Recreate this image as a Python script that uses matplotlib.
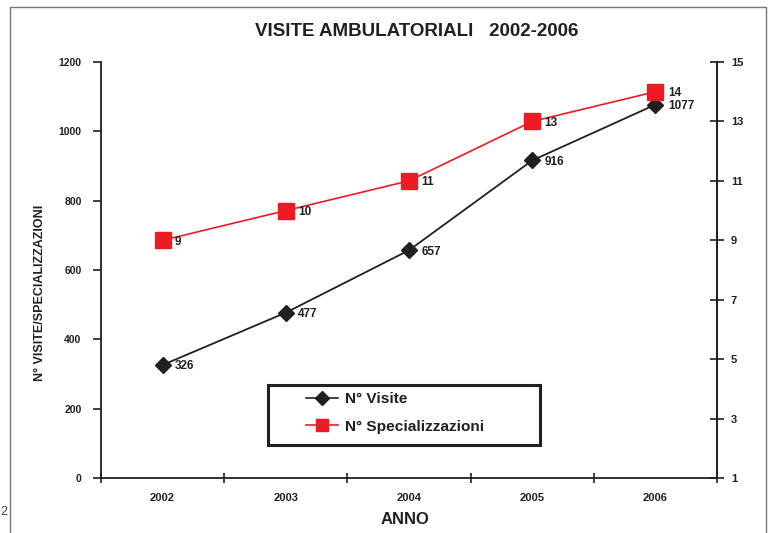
import matplotlib
matplotlib.use("Agg")
import matplotlib.pyplot as plt
from matplotlib.lines import Line2D
from matplotlib.patches import Rectangle

plt.rcParams['font.family'] = ['Liberation Sans', 'DejaVu Sans']
plt.rcParams['font.weight'] = 'bold'

years = ["2002", "2003", "2004", "2005", "2006"]
visite = [326, 477, 657, 916, 1077]
specializzazioni = [9, 10, 11, 13, 14]
left_ticks = [0, 200, 400, 600, 800, 1000, 1200]
right_ticks = [1, 3, 5, 7, 9, 11, 13, 15]

W, H = 771, 533
fig = plt.figure(figsize=(W / 100, H / 100), dpi=100)
fig.patch.set_facecolor('white')

# outer frame
fx0, fx1, fy1 = 10 / W, 765.5 / W, 1 - 7 / H
fig.add_artist(Line2D([fx0, fx0, fx1, fx1], [-0.02, fy1, fy1, -0.02],
                      transform=fig.transFigure, color='#777777', lw=1.0))
fig.text(4 / W, 1 - 512 / H, "2", fontsize=9, color='#444444', ha='center', va='center',
         fontweight='normal')

ax = fig.add_axes([101 / W, 1 - 478 / H, (717 - 101) / W, (478 - 62) / H])
ax2 = ax.twinx()

x = list(range(len(years)))
l1, = ax.plot(x, visite, color='#231f20', lw=1.3, marker='D', ms=8.5,
              markerfacecolor='#231f20', markeredgecolor='#231f20', zorder=3)
l2, = ax2.plot(x, specializzazioni, color='#ed1c24', lw=1.2, marker='s', ms=11,
               markerfacecolor='#ed1c24', markeredgecolor='#ed1c24', zorder=3)

ax.set_xlim(-0.5, len(years) - 0.5)
ax.set_ylim(0, 1200)
ax2.set_ylim(1, 15)
ax.set_yticks(left_ticks)
ax.set_yticklabels([str(v) for v in left_ticks], fontsize=7.5, fontweight='bold', color='#231f20')
ax2.set_yticks(right_ticks)
ax2.set_yticklabels([str(v) for v in right_ticks], fontsize=8, fontweight='bold', color='#231f20')

ax.set_xticks([i + 0.5 for i in range(-1, len(years))])
ax.set_xticklabels([])
ax.set_xticks(x, minor=True)
ax.set_xticklabels(years, minor=True, fontsize=8, fontweight='bold', color='#231f20')
ax.tick_params(axis='x', which='major', direction='inout', length=7, width=1.2, color='#231f20')
ax.tick_params(axis='x', which='minor', length=0, pad=11)
ax.tick_params(axis='y', direction='out', length=6, width=1.2, pad=8, color='#231f20')
ax2.tick_params(axis='y', direction='inout', length=10, width=1.2, pad=5, color='#231f20')

for a in (ax, ax2):
    a.spines['top'].set_visible(False)
    for s in ('left', 'right', 'bottom'):
        a.spines[s].set_linewidth(1.3)
        a.spines[s].set_color('#231f20')
ax2.spines['left'].set_visible(False)
ax2.spines['bottom'].set_visible(False)

for xi, v in zip(x, visite):
    ax.annotate(str(v), (xi, v), xytext=(9, -1), textcoords='offset points',
                ha='left', va='center', fontsize=8.5, fontweight='bold', color='#231f20')
for xi, v in zip(x, specializzazioni):
    ax2.annotate(str(v), (xi, v), xytext=(9, -1), textcoords='offset points',
                 ha='left', va='center', fontsize=8.5, fontweight='bold', color='#231f20')

fig.text(417 / W, 1 - 32 / H, "VISITE AMBULATORIALI   2002-2006", ha='center', va='center',
         fontsize=13.5, fontweight='bold', color='#231f20')
fig.text(40 / W, 1 - 293 / H, "N° VISITE/SPECIALIZZAZIONI", rotation=90, ha='center',
         va='center', fontsize=9, fontweight='bold', color='#231f20')
fig.text(405 / W, 1 - 519 / H, "ANNO", ha='center', va='center', fontsize=12,
         fontweight='bold', color='#231f20')

# legend box
bx0, bx1, by0, by1 = 268, 540, 385, 445
ax.add_patch(Rectangle(((bx0 - 101) / 616, (478 - by1) / 416), (bx1 - bx0) / 616,
                       (by1 - by0) / 416, transform=ax.transAxes, facecolor='white',
                       edgecolor='#231f20', lw=2.2, zorder=5))
h1 = Line2D([], [], color='#231f20', lw=1.2, marker='D', ms=7, markerfacecolor='#231f20')
h2 = Line2D([], [], color='#ed1c24', lw=1.2, marker='s', ms=9, markerfacecolor='#ed1c24')
leg = ax.legend([h1, h2], ["N° Visite", "N° Specializzazioni"], loc='upper left',
                bbox_to_anchor=((306 - 101) / 616, (478 - 392) / 416), frameon=False,
                borderpad=0, borderaxespad=0, handlelength=2.1, handletextpad=0.45,
                labelspacing=0.9, prop={'size': 11.1, 'weight': 'bold'})
leg.set_zorder(6)
for t in leg.get_texts():
    t.set_color('#231f20')

fig.savefig("out.png", dpi=100)
